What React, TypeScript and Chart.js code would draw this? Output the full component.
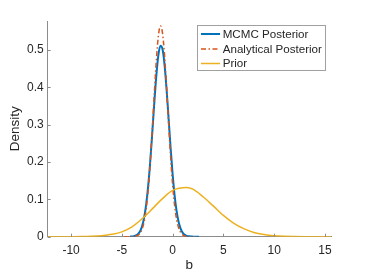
import React, { useEffect, useRef } from "react";
import { Chart, registerables } from "chart.js";

Chart.register(...registerables);

const xTicks = [-10, -5, 0, 5, 10, 15];
const yTicks = [0, 0.1, 0.2, 0.3, 0.4, 0.5];
const xRange = [-12.3, 15.6];
const yRange = [0, 0.578];

const seriesNames = ["MCMC Posterior", "Analytical Posterior", "Prior"];
const seriesColors = ["#0072BD", "#D95319", "#EDB120"];

const mcmcX = [-4.2, -4.0, -3.8, -3.6, -3.4, -3.2, -3.0, -2.8, -2.6, -2.4, -2.2, -2.0, -1.8, -1.6, -1.4, -1.2, -1.0, -0.8, -0.6, -0.4, -0.2, 0.0, 0.2, 0.4, 0.6, 0.8, 1.0, 1.2, 1.4, 1.6, 1.8, 2.0, 2.2, 2.4, 2.6];
const mcmcY = [0.0002, 0.0005, 0.0014, 0.0033, 0.0072, 0.0148, 0.0286, 0.0517, 0.0871, 0.1373, 0.2024, 0.2789, 0.3593, 0.4325, 0.4867, 0.5119, 0.5034, 0.4627, 0.3975, 0.3192, 0.2397, 0.1682, 0.1103, 0.0677, 0.0388, 0.0208, 0.0104, 0.0049, 0.0021, 0.001, 0.0004, 0.0002, 0.0001, 0.0, 0.0];

const analyticX = [-4.8, -4.6, -4.4, -4.2, -4.0, -3.8, -3.6, -3.4, -3.2, -3.0, -2.8, -2.6, -2.4, -2.2, -2.0, -1.8, -1.6, -1.4, -1.2, -1.0, -0.8, -0.6, -0.4, -0.2, 0.0, 0.2, 0.4, 0.6, 0.8, 1.0, 1.2, 1.4, 1.6, 1.8, 2.0, 2.2];
const analyticY = [0.0, 0.0, 0.0, 0.0001, 0.0002, 0.0006, 0.0016, 0.004, 0.0094, 0.0204, 0.0406, 0.0747, 0.127, 0.1989, 0.2878, 0.3842, 0.4734, 0.5382, 0.5648, 0.5469, 0.4888, 0.4032, 0.3069, 0.2156, 0.1398, 0.0836, 0.0462, 0.0235, 0.0111, 0.0048, 0.0019, 0.0007, 0.0002, 0.0001, 0.0, 0.0];

const priorX = [-12.3, -12, -11, -10, -9, -8, -7, -6, -5, -4, -3, -2, -1, 0, 1.4, 2, 3, 4, 5, 6, 7, 8, 9, 10, 11, 12, 13, 14, 15, 15.6];
const priorY = [0.0, 0.0, 0.0, 0.0001, 0.0003, 0.001, 0.0027, 0.0063, 0.013, 0.0265, 0.048, 0.0745, 0.102, 0.124, 0.1318, 0.1275, 0.107, 0.0825, 0.057, 0.0365, 0.0215, 0.0115, 0.0058, 0.0025, 0.001, 0.0004, 0.0001, 0.0, 0.0, 0.0];

const FONT = "'Liberation Sans', Arial, Helvetica, sans-serif";
const TEXT = "#262626";
const AXIS = "#8c8c8c";

const zip = (xs: number[], ys: number[]) => xs.map((x, i) => ({ x, y: ys[i] }));

const overlayPlugin = {
  id: "matlabOverlay",
  afterDraw(chart: any) {
    const ctx = chart.ctx as CanvasRenderingContext2D;
    const xs = chart.scales.x;
    const ys = chart.scales.y;
    const area = chart.chartArea;
    ctx.save();
    // inward tick marks
    ctx.strokeStyle = AXIS;
    ctx.lineWidth = 1;
    ctx.beginPath();
    xTicks.forEach((v) => {
      const px = Math.round(xs.getPixelForValue(v)) + 0.5;
      ctx.moveTo(px, area.bottom);
      ctx.lineTo(px, area.bottom - 3);
    });
    yTicks.forEach((v) => {
      const py = Math.round(ys.getPixelForValue(v)) + 0.5;
      ctx.moveTo(area.left, py);
      ctx.lineTo(area.left + 3, py);
    });
    ctx.stroke();

    // legend box
    const bx = 197.5, by = 25.5, bw = 128, bh = 45;
    ctx.fillStyle = "#ffffff";
    ctx.fillRect(bx, by, bw, bh);
    ctx.strokeStyle = "#a0a0a0";
    ctx.lineWidth = 1;
    ctx.strokeRect(bx, by, bw, bh);
    const rows = [34, 49, 63.5];
    ctx.font = `11.6px ${FONT}`;
    ctx.textBaseline = "middle";
    ctx.textAlign = "left";
    chart.data.datasets.forEach((ds: any, i: number) => {
      const y = rows[i];
      ctx.strokeStyle = ds.borderColor;
      ctx.lineWidth = ds.borderWidth;
      ctx.setLineDash(ds.borderDash || []);
      ctx.beginPath();
      ctx.moveTo(201, y);
      ctx.lineTo(220, y);
      ctx.stroke();
      ctx.setLineDash([]);
      ctx.fillStyle = TEXT;
      ctx.fillText(ds.label, 222.7, y + 0.5);
    });
    ctx.restore();
  },
};

export default function App() {
  const ref = useRef<HTMLCanvasElement | null>(null);
  useEffect(() => {
    document.body.style.margin = "0";
    const canvas = ref.current;
    if (!canvas) return;
    const chart = new Chart(canvas, {
      type: "line",
      data: {
        datasets: [
          {
            label: seriesNames[0],
            data: zip(mcmcX, mcmcY),
            borderColor: seriesColors[0],
            borderWidth: 2,
            pointRadius: 0,
            cubicInterpolationMode: "monotone",
            fill: false,
            order: 3,
          },
          {
            label: seriesNames[1],
            data: zip(analyticX, analyticY),
            borderColor: seriesColors[1],
            borderWidth: 1.5,
            borderDash: [5, 2.5, 1.5, 2.5],
            pointRadius: 0,
            cubicInterpolationMode: "monotone",
            fill: false,
            order: 2,
          },
          {
            label: seriesNames[2],
            data: zip(priorX, priorY),
            borderColor: seriesColors[2],
            borderWidth: 1.5,
            pointRadius: 0,
            cubicInterpolationMode: "monotone",
            fill: false,
            order: 1,
          },
        ],
      } as any,
      options: {
        animation: false,
        responsive: false,
        events: [],
        layout: { padding: { top: 21, right: 35, left: 0, bottom: 0 } },
        plugins: { legend: { display: false }, tooltip: { enabled: false } },
        scales: {
          x: {
            type: "linear",
            min: xRange[0],
            max: xRange[1],
            afterBuildTicks: (s: any) => {
              s.ticks = xTicks.map((v) => ({ value: v }));
            },
            afterFit: (s: any) => {
              s.height = 37.3;
            },
            grid: { display: false, drawTicks: false },
            border: { display: true, color: AXIS, width: 1 },
            ticks: {
              padding: 7,
              color: TEXT,
              font: { family: FONT, size: 12 },
              maxRotation: 0,
              callback: (v: any) => String(v),
            },
            title: {
              display: true,
              text: "b",
              color: TEXT,
              font: { family: FONT, size: 13.5 },
              padding: { top: 0, bottom: 1 },
            },
          },
          y: {
            type: "linear",
            min: yRange[0],
            max: yRange[1],
            afterBuildTicks: (s: any) => {
              s.ticks = yTicks.map((v) => ({ value: v }));
            },
            afterFit: (s: any) => {
              s.width = 47.7;
            },
            grid: { display: false, drawTicks: false },
            border: { display: true, color: AXIS, width: 1 },
            ticks: {
              padding: 4,
              color: TEXT,
              font: { family: FONT, size: 12 },
              callback: (v: any) => String(Math.round(v * 10) / 10),
            },
            title: {
              display: true,
              text: "Density",
              color: TEXT,
              font: { family: FONT, size: 13.5 },
              padding: { top: 7, bottom: 0 },
            },
          },
        },
      },
      plugins: [overlayPlugin],
    } as any);
    return () => chart.destroy();
  }, []);
  return <canvas ref={ref} width={366} height={274} style={{ display: "block" }} />;
}
